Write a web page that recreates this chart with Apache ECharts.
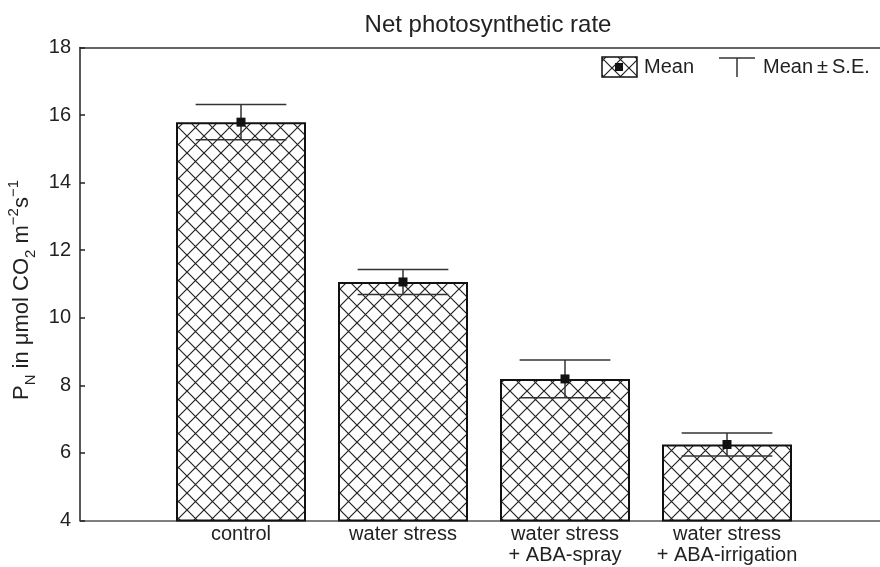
<!DOCTYPE html>
<html>
<head>
<meta charset="utf-8">
<script src="https://cdn.jsdelivr.net/npm/echarts@6/dist/echarts.min.js"></script>
<style>html,body{margin:0;padding:0;background:#fff}#c{width:880px;height:567px}</style>
</head>
<body>
<div id="c"></div>
<script>
const categories = ['control', 'water stress', 'water stress\n+ ABA-spray', 'water stress\n+ ABA-irrigation'];
const means = [15.79, 11.06, 8.19, 6.25];
const stdErr = [0.52, 0.37, 0.56, 0.34];
const yMin = 4, yMax = 18, yStep = 2;

function makePattern(size) {
  const c = document.createElement('canvas');
  c.width = size; c.height = size;
  const g = c.getContext('2d');
  g.fillStyle = '#fff'; g.fillRect(0, 0, size, size);
  g.strokeStyle = '#222'; g.lineWidth = 1.2;
  g.beginPath();
  g.moveTo(-2, -2); g.lineTo(size + 2, size + 2);
  g.moveTo(size + 2, -2); g.lineTo(-2, size + 2);
  g.stroke();
  return c;
}
const pat = makePattern(17);
const FONT = 'Liberation Sans, Arial, sans-serif';

const chart = echarts.init(document.getElementById('c'), null, {renderer: 'canvas'});
const option = {
  animation: false,
  backgroundColor: '#fff',
  title: {
    text: 'Net photosynthetic rate',
    left: 483, top: 8, textAlign: 'center',
    textStyle: {fontFamily: FONT, fontSize: 24, fontWeight: 'normal', color: '#222'}
  },
  grid: [
    {left: 80, right: 0, top: 47.5, bottom: 46.5},
    {left: 160, right: 72, top: 47.5, bottom: 46.5}
  ],
  xAxis: [
    {gridIndex: 0, type: 'value', min: 0, max: 1, position: 'bottom',
     axisLine: {show: true, onZero: false, lineStyle: {color: '#555', width: 1.5}},
     axisTick: {show: false}, axisLabel: {show: false}, splitLine: {show: false}},
    {gridIndex: 0, type: 'value', min: 0, max: 1, position: 'top',
     axisLine: {show: true, onZero: false, lineStyle: {color: '#333', width: 1.5}},
     axisTick: {show: false}, axisLabel: {show: false}, splitLine: {show: false}},
    {gridIndex: 1, type: 'category', data: categories, position: 'bottom',
     axisLine: {show: false},
     axisTick: {show: true, inside: true, alignWithLabel: true, length: 6, lineStyle: {color: '#333', width: 1}},
     axisLabel: {fontFamily: FONT, fontSize: 20, color: '#222', margin: 3, lineHeight: 21, interval: 0},
     splitLine: {show: false}}
  ],
  yAxis: [
    {gridIndex: 0, type: 'value', min: yMin, max: yMax, interval: yStep,
     axisLine: {show: true, lineStyle: {color: '#222', width: 1.5}},
     axisTick: {show: true, inside: true, length: 5, lineStyle: {color: '#222', width: 1.5}},
     axisLabel: {fontFamily: FONT, fontSize: 20, color: '#222', margin: 9},
     splitLine: {show: false}},
    {gridIndex: 1, type: 'value', min: yMin, max: yMax, interval: yStep, show: false, splitLine: {show: false}}
  ],
  series: [
    {type: 'bar', xAxisIndex: 2, yAxisIndex: 1, data: means, barWidth: 130,
     itemStyle: {color: {image: pat, repeat: 'repeat'}, borderColor: '#111', borderWidth: 2}},
    {type: 'custom', xAxisIndex: 2, yAxisIndex: 1, z: 5,
     data: means.map((m, i) => [i, m, stdErr[i]]),
     encode: {x: 0, y: 1},
     renderItem: function (params, api) {
       const x = api.value(0), m = api.value(1), s = api.value(2);
       const top = api.coord([x, m + s]), bot = api.coord([x, m - s]), mid = api.coord([x, m]);
       const hw = api.size([1, 0])[0] * 0.28;
       const st = {stroke: '#333', lineWidth: 1.5};
       return {type: 'group', children: [
         {type: 'line', shape: {x1: top[0] - hw, y1: top[1], x2: top[0] + hw, y2: top[1]}, style: st},
         {type: 'line', shape: {x1: bot[0] - hw, y1: bot[1], x2: bot[0] + hw, y2: bot[1]}, style: st},
         {type: 'line', shape: {x1: top[0], y1: top[1], x2: bot[0], y2: bot[1]}, style: st},
         {type: 'rect', shape: {x: mid[0] - 4.5, y: mid[1] - 4.5, width: 9, height: 9}, style: {fill: '#111'}}
       ]};
     }}
  ],
  graphic: [
    {type: 'text', x: 22, y: 290, rotation: Math.PI / 2,
     style: {
       text: '{a|P}{s|N}{a| in μmol CO}{s|2}{a| m}{p|−2}{a|s}{p|−1}',
       align: 'center', verticalAlign: 'middle',
       rich: {
         a: {fontFamily: FONT, fontSize: 22, fill: '#222', lineHeight: 32, verticalAlign: 'middle'},
         s: {fontFamily: FONT, fontSize: 15, fill: '#222', lineHeight: 16, verticalAlign: 'bottom'},
         p: {fontFamily: FONT, fontSize: 15, fill: '#222', lineHeight: 16, verticalAlign: 'top'}
       }
     }},
    {type: 'rect', shape: {x: 602, y: 57, width: 35, height: 20},
     style: {fill: {image: pat, repeat: 'repeat'}, stroke: '#111', lineWidth: 1.5}},
    {type: 'rect', shape: {x: 615, y: 63, width: 8, height: 8}, style: {fill: '#111'}},
    {type: 'text', x: 644, y: 67, style: {text: 'Mean', font: '20px ' + FONT, fill: '#222', verticalAlign: 'middle'}},
    {type: 'line', shape: {x1: 719, y1: 58, x2: 755, y2: 58}, style: {stroke: '#333', lineWidth: 1.5}},
    {type: 'line', shape: {x1: 737, y1: 58, x2: 737, y2: 77}, style: {stroke: '#333', lineWidth: 1.5}},
    {type: 'text', x: 763, y: 67, style: {text: 'Mean\u2009±\u2009S.E.', font: '20px ' + FONT, fill: '#222', verticalAlign: 'middle'}}
  ]
};
chart.setOption(option);
</script>
</body>
</html>
